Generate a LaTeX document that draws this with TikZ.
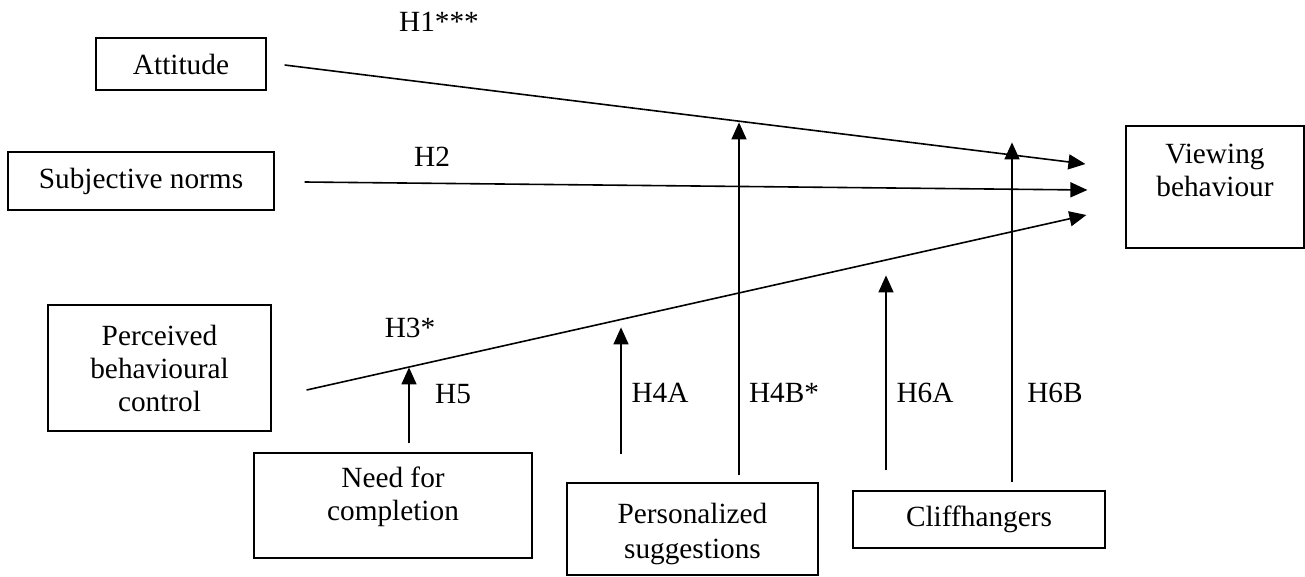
\documentclass[tikz,border=0pt]{standalone}
\usepackage{fontspec}
\setmainfont{Liberation Serif}
\usetikzlibrary{arrows.meta,calc}
\begin{document}
\begin{tikzpicture}[x=1pt,y=-1pt,
  box/.style={draw, line width=1.2pt, align=center, inner sep=0pt, font=\fontsize{29.3}{33}\selectfont},
  arr/.style={line width=1.6pt, -{Triangle[length=17pt,width=15pt]}},
  lbl/.style={inner sep=0pt, font=\fontsize{29.3}{33}\selectfont}]
\useasboundingbox (0,0) rectangle (1305,576);
% boxes
\node[box, minimum width=170pt, minimum height=52pt] (att) at (181,64) {Attitude};
\node[box, minimum width=266pt, minimum height=58pt] (sn) at (141,181) {Subjective norms};
\node[box, minimum width=178pt, minimum height=122pt] (vb) at (1215,187) {Viewing\\behaviour\\[-9pt]\strut};
\node[box, minimum width=223pt, minimum height=126pt] (pbc) at (159.5,368) {Perceived\\behavioural\\control};
\node[box, minimum width=278pt, minimum height=105pt] (nfc) at (393,505.5) {Need for\\completion\\[-19pt]\strut};
\node[box, minimum width=251pt, minimum height=92pt] (ps) at (692.5,529) {\rule{0pt}{30pt}Personalized\\[2pt]suggestions};
\node[box, minimum width=252pt, minimum height=57pt] (cl) at (979,519.5) {Cliffhangers};
% connector ends
\coordinate (aS) at ($(att.east)+(18,1)$);
\coordinate (aE) at ($(vb.west)+(-40,-23)$);
\coordinate (sS) at ($(sn.east)+(30,1)$);
\coordinate (sE) at ($(vb.west)+(-38,3)$);
\coordinate (pS) at ($(pbc.east)+(35,22)$);
\coordinate (pE) at ($(vb.west)+(-39,28)$);
\coordinate (h5S) at ($(nfc.north)+(16,-9)$);
\coordinate (h5E) at ($(nfc.north)+(16,-85)$);
\coordinate (h4aS) at ($(ps.north)+(-71.5,-28)$);
\coordinate (h4aE) at ($(ps.north)+(-71.5,-155)$);
\coordinate (h4bS) at ($(ps.north)+(46.5,-7)$);
\coordinate (h4bE) at ($(ps.north)+(46.5,-360)$);
\coordinate (h6aS) at ($(cl.north)+(-93,-20)$);
\coordinate (h6aE) at ($(cl.north)+(-93,-215)$);
\coordinate (h6bS) at ($(cl.north)+(33,-8)$);
\coordinate (h6bE) at ($(cl.north)+(33,-348)$);
% connectors
\draw[arr] (aS) -- (aE);
\draw[arr] (sS) -- (sE);
\draw[arr] (pS) -- (pE);
\draw[arr] (h5S) -- (h5E);
\draw[arr] (h4aS) -- (h4aE);
\draw[arr] (h4bS) -- (h4bE);
\draw[arr] (h6aS) -- (h6aE);
\draw[arr] (h6bS) -- (h6bE);
% labels
\node[lbl] (l1) at (439,22) {H1***};
\node[lbl] (l2) at (432,157) {H2};
\node[lbl] (l3) at (410,328) {H3*};
\node[lbl] (l5) at (453,394) {H5};
\node[lbl] (l4a) at (660,393) {H4A};
\node[lbl] (l4b) at (784,393) {H4B*};
\node[lbl] (l6a) at (925,393) {H6A};
\node[lbl] (l6b) at (1055,393) {H6B};
\end{tikzpicture}
\end{document}
